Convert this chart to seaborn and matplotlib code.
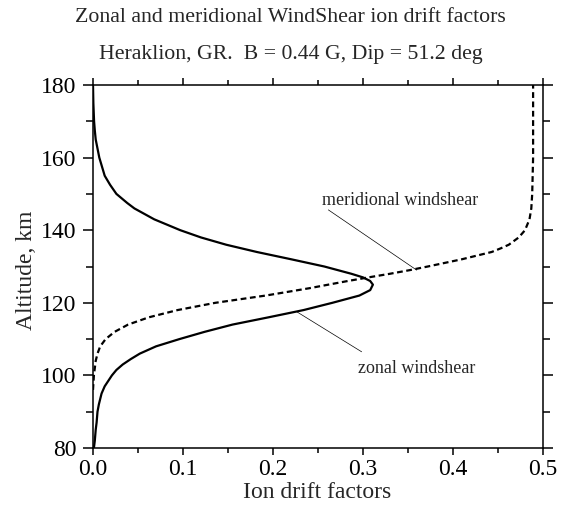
import numpy as np
import pandas as pd
import matplotlib
matplotlib.use("Agg")
import matplotlib.pyplot as plt
import seaborn as sns

# ---- data ----
zonal_alt = [80, 82, 85, 87, 90, 92, 95, 97, 98.5, 100, 101.5, 103, 104.5, 106, 108,
             110, 112, 114, 116, 118, 120, 122, 123.5, 125, 126, 127, 128, 129, 130,
             132, 134, 136, 138, 140, 143, 146, 147.5, 150, 152.5, 155, 157.5, 160,
             162.5, 165, 167.5, 170, 175, 180]
zonal_val = [0.001, 0.002, 0.003, 0.004, 0.005, 0.0065, 0.0095, 0.013, 0.017, 0.021,
             0.026, 0.033, 0.042, 0.052, 0.070, 0.096, 0.124, 0.155, 0.195, 0.234,
             0.266, 0.296, 0.308, 0.311, 0.308, 0.300, 0.287, 0.272, 0.257, 0.220,
             0.182, 0.148, 0.120, 0.097, 0.068, 0.046, 0.038, 0.026, 0.019, 0.013,
             0.010, 0.007, 0.005, 0.003, 0.002, 0.0012, 0.0004, 0.0]

merid_alt = [96, 98, 100, 102, 104, 106, 108, 110, 112, 114, 116, 118, 120, 122,
             124, 126, 127, 128, 129, 130, 132, 134, 135, 136, 138, 140, 143, 146,
             150, 160, 170, 180]
merid_val = [0.0, 0.0005, 0.001, 0.002, 0.003, 0.005, 0.008, 0.014, 0.024, 0.039,
             0.062, 0.094, 0.136, 0.192, 0.240, 0.283, 0.306, 0.330, 0.352, 0.372,
             0.410, 0.443, 0.453, 0.462, 0.473, 0.480, 0.485, 0.487, 0.488, 0.489,
             0.489, 0.489]

title_lines = ["Zonal and meridional WindShear ion drift factors",
               "Heraklion, GR.  B = 0.44 G, Dip = 51.2 deg"]
x_label = "Ion drift factors"
y_label = "Altitude, km"
label_zonal = "zonal windshear"
label_merid = "meridional windshear"

x_ticks = [0.0, 0.1, 0.2, 0.3, 0.4, 0.5]
y_ticks = [80, 100, 120, 140, 160, 180]

# ---- plotting ----
sns.set_style("ticks")
plt.rcParams["font.family"] = ["Liberation Serif", "DejaVu Serif"]

fig = plt.figure(figsize=(5.67, 5.05), dpi=100)
ax = fig.add_axes([93/567, 1 - 448/505, (543-93)/567, (448-85)/505])

dz = pd.DataFrame({"alt": zonal_alt, "val": zonal_val})
dm = pd.DataFrame({"alt": merid_alt, "val": merid_val})

sns.lineplot(data=dz, x="val", y="alt", orient="y", estimator=None, sort=False,
             color="black", lw=1.6, ax=ax)
sns.lineplot(data=dm, x="val", y="alt", orient="y", estimator=None, sort=False,
             color="black", lw=1.6, ax=ax, linestyle=(0, (2.6, 1.6)))

ax.set_xlim(0, 0.5)
ax.set_ylim(80, 180)
ax.set_xticks(x_ticks)
ax.set_xticklabels([f"{t:.1f}" for t in x_ticks])
ax.set_yticks(y_ticks)
ax.set_yticklabels([str(t) for t in y_ticks])
ax.set_xticks(np.arange(0.05, 0.5, 0.1), minor=True)
ax.set_yticks(np.arange(90, 180, 20), minor=True)

ax.tick_params(which="both", direction="out", top=True, right=True,
               labeltop=False, labelright=False, width=1.1, colors="black",
               labelsize=17)
ax.tick_params(axis="x", which="major", length=5, pad=3)
ax.tick_params(axis="x", which="minor", length=3.6)
ax.tick_params(axis="y", which="major", length=7, pad=5)
ax.tick_params(axis="y", which="minor", length=5)
for s in ax.spines.values():
    s.set_visible(True)
    s.set_linewidth(1.1)
    s.set_color("black")

ax.set_xlabel(x_label, fontsize=17)
ax.set_ylabel(y_label, fontsize=17)
ax.xaxis.set_label_coords(0.499, -0.094)
ax.yaxis.set_label_coords(-0.124, 0.49)

# annotations
ax.text(0.254, 148.3, label_merid, fontsize=13, va="center", ha="left")
ax.plot([0.2615, 0.3597], [145.6, 129.0], color="black", lw=0.5)
ax.text(0.2944, 102.0, label_zonal, fontsize=13, va="center", ha="left")
ax.plot([0.2263, 0.2985], [117.55, 106.5], color="black", lw=0.5)

fig.text(0.513, 1 - 18/505, title_lines[0], ha="center", va="center", fontsize=15.7)
fig.text(0.513, 1 - 55/505, title_lines[1], ha="center", va="center", fontsize=15.7)

fig.savefig("out.png", dpi=100)
